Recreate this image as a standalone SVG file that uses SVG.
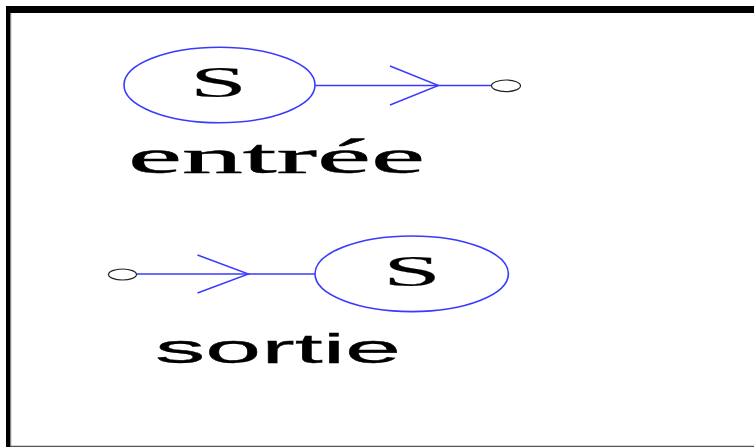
<svg xmlns="http://www.w3.org/2000/svg" width="754" height="448" viewBox="0 0 754 448">
<style>
.ell{fill:none;stroke:#3a3aff;stroke-width:1.6}
.ln{fill:none;stroke:#3a3aff;stroke-width:1.4}
.term{fill:#fff;stroke:#222;stroke-width:1.2}
.s{font-family:"Liberation Serif","Times New Roman",serif;font-size:44px;fill:#000;stroke:#000;stroke-width:0.2}
.lab1{font-family:"Liberation Serif","Times New Roman",serif;font-size:49px;fill:#000;stroke:#000;stroke-width:0.5}
.lab2{font-family:"Liberation Sans",Arial,sans-serif;font-size:41px;fill:#000;stroke:#000;stroke-width:0.3}
</style>
<rect x="0" y="0" width="754" height="448" fill="#fff"/>
<g id="frame">
<rect x="6" y="6" width="748" height="7" fill="#000"/>
<rect x="6" y="6" width="4.5" height="441" fill="#000"/>
<line x1="10.8" y1="13" x2="10.8" y2="446" stroke="#888" stroke-width="0.8"/>
<line x1="10" y1="446.3" x2="754" y2="446.3" stroke="#555" stroke-width="1.2"/>
</g>
<g id="connectors">
<line class="ln" x1="315" y1="85.5" x2="492" y2="85.5"/>
<polyline class="ln" points="390,66 438.5,85.5 390,105"/>
<line class="ln" x1="137" y1="274" x2="315" y2="274"/>
<polyline class="ln" points="197.5,255 248.5,274 197.5,293"/>
</g>
<g id="node-entree">
<ellipse class="ell" cx="219.5" cy="85" rx="95.5" ry="37.7"/>
<text class="s" x="190" y="97" textLength="57" lengthAdjust="spacingAndGlyphs">S</text>
<text class="lab1" x="128" y="172.5" textLength="297" lengthAdjust="spacingAndGlyphs">entrée</text>
</g>
<g id="term-entree">
<ellipse class="term" cx="506" cy="85.8" rx="14.5" ry="5.8"/>
</g>
<g id="term-sortie">
<ellipse class="term" cx="122.5" cy="274.5" rx="14" ry="5.5"/>
</g>
<g id="node-sortie">
<ellipse class="ell" cx="411.7" cy="273.8" rx="96.7" ry="37.8"/>
<text class="s" x="383" y="286" textLength="58" lengthAdjust="spacingAndGlyphs">S</text>
<text class="lab2" x="155" y="363" textLength="246" lengthAdjust="spacingAndGlyphs">sortie</text>
</g>
</svg>
